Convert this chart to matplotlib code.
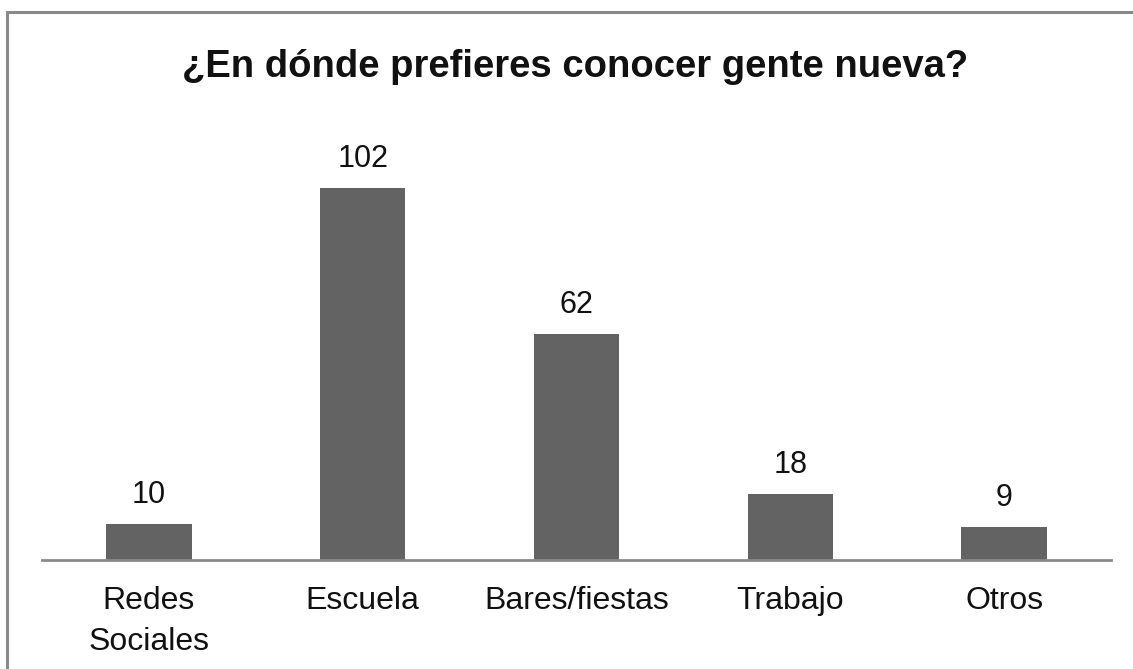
import matplotlib
matplotlib.use('Agg')
import matplotlib.pyplot as plt
from matplotlib.lines import Line2D

matplotlib.rcParams['font.family'] = ['Liberation Sans', 'DejaVu Sans']

categories = ['Redes\nSociales', 'Escuela', 'Bares/fiestas', 'Trabajo', 'Otros']
values = [10, 102, 62, 18, 9]

fig = plt.figure(figsize=(11.33, 6.69), dpi=100)
ax = fig.add_axes([0.0371, 0.1629, 0.9435, 0.6547])

x = range(len(categories))
bars = ax.bar(x, values, width=0.4, color='#636363', zorder=2)

for xi, v in zip(x, values):
    ax.annotate(str(v), (xi, v), xytext=(0, 10), textcoords='offset points',
                ha='center', va='bottom', fontsize=22, color='#111111')

ax.set_xlim(-0.5, len(categories) - 0.5)
ax.set_ylim(0, 120)
ax.set_xticks(list(x))
ax.set_xticklabels(categories, fontsize=23, color='#111111', linespacing=1.45)
ax.tick_params(axis='x', length=0, pad=19)
ax.set_yticks([])
for side in ['top', 'right', 'left']:
    ax.spines[side].set_visible(False)
ax.spines['bottom'].set_color('#8a8a8a')
ax.spines['bottom'].set_linewidth(2)

fig.text(0.508, 1 - 67 / 669, '¿En dónde prefieres conocer gente nueva?',
         ha='center', va='center', fontsize=27.5, fontweight='bold', color='#111111')

# frame around the chart (top and left edges)
fig.add_artist(Line2D([7 / 1133, 7 / 1133], [0, 1 - 12 / 669],
                      color='#8a8a8a', linewidth=2.2, transform=fig.transFigure))
fig.add_artist(Line2D([7 / 1133, 1], [1 - 12 / 669, 1 - 12 / 669],
                      color='#8a8a8a', linewidth=2.2, transform=fig.transFigure))

fig.savefig('out.png', dpi=100, facecolor='white')
